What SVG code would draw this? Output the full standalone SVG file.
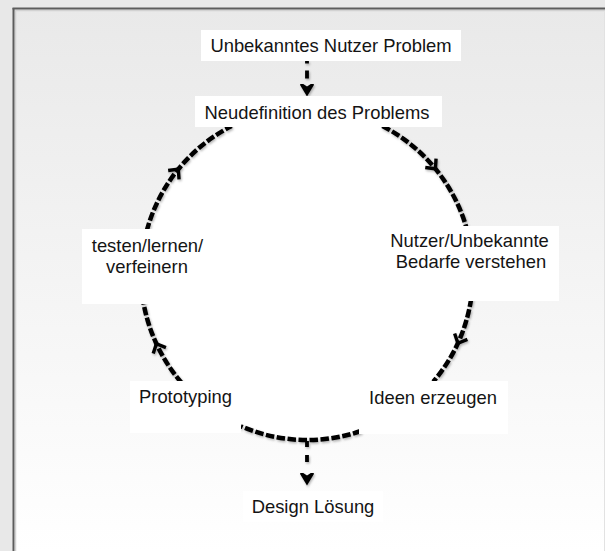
<svg xmlns="http://www.w3.org/2000/svg" width="605" height="551" viewBox="0 0 605 551">
<defs>
<linearGradient id="bg" x1="0" y1="10" x2="0" y2="551" gradientUnits="userSpaceOnUse">
<stop offset="0" stop-color="#e9e9e9"/>
<stop offset="1" stop-color="#ffffff"/>
</linearGradient>
<filter id="sh" x="-20%" y="-20%" width="140%" height="140%">
<feDropShadow dx="1" dy="1.5" stdDeviation="1" flood-color="#000" flood-opacity="0.3"/>
</filter>
<marker id="chev" markerUnits="userSpaceOnUse" viewBox="-10 -10 20 20" markerWidth="20" markerHeight="20" orient="auto" refX="0" refY="0">
<path d="M-7,-7 L0.5,0 L-7,7" fill="none" stroke="#000" stroke-width="3.4" stroke-linejoin="miter"/>
</marker>
<marker id="vhead" markerUnits="userSpaceOnUse" viewBox="-10 -10 20 20" markerWidth="20" markerHeight="20" orient="auto" refX="0" refY="0">
<path d="M-10,-6 L0,0 L-10,6 L-6,0 Z" fill="#000" stroke="#000" stroke-width="2.5" stroke-linejoin="miter"/>
</marker>
</defs>
<style>
.box{fill:#ffffff;}
.lbl{font-family:"Liberation Sans",Arial,sans-serif;font-size:18.4px;fill:#141414;text-anchor:middle;}
.arc{fill:none;stroke:#000;stroke-width:4.5;stroke-dasharray:8.5 2.5;}
.vert{fill:none;stroke:#000;stroke-width:3.8;}
</style>
<rect x="0" y="0" width="605" height="551" fill="#e8e8e8"/>
<rect x="13" y="8" width="592" height="560" fill="url(#bg)"/>
<line x1="14" y1="10.5" x2="605" y2="10.5" stroke="#d2d2d2" stroke-width="1.5"/>
<line x1="15.5" y1="10" x2="15.5" y2="551" stroke="#d2d2d2" stroke-width="1.5"/>
<line x1="12.5" y1="8.5" x2="605" y2="8.5" stroke="#5c5c5c" stroke-width="2"/>
<line x1="13.5" y1="8" x2="13.5" y2="551" stroke="#5c5c5c" stroke-width="2"/>
<line x1="604.5" y1="11" x2="604.5" y2="551" stroke="#e2e2e2" stroke-width="1"/>
<circle cx="307" cy="274" r="166" fill="#ffffff"/>
<g id="connectors" filter="url(#sh)">
<path class="arc" d="M382.4,126.1 A166,166 0 0 1 435.1,168.4 A166,166 0 0 1 466.6,228.2" marker-mid="url(#chev)"/>
<path class="arc" d="M471.2,298.5 A166,166 0 0 1 458.1,342.8 A166,166 0 0 1 433.2,381.8" marker-mid="url(#chev)"/>
<path class="arc" d="M361.0,431.0 A166,166 0 0 1 240.8,426.2"/>
<path class="arc" d="M181.7,382.9 A166,166 0 0 1 156.6,344.2 A166,166 0 0 1 143.0,300.0" marker-mid="url(#chev)"/>
<path class="arc" d="M146.7,231.0 A166,166 0 0 1 178.0,169.5 A166,166 0 0 1 231.6,126.1" marker-mid="url(#chev)"/>
<path class="vert" d="M307,61 L307,94" stroke-dasharray="2.5 7 8 40" marker-end="url(#vhead)"/>
<path class="vert" d="M307,441 L307,483" stroke-dasharray="6 8 7 40" marker-end="url(#vhead)"/>
</g>
<g id="n-unbekannt"><rect class="box" x="201" y="30" width="260" height="31"/><text class="lbl" x="331" y="52">Unbekanntes Nutzer Problem</text></g>
<g id="n-neudefinition"><rect class="box" x="195" y="96" width="247" height="31"/><text class="lbl" x="317" y="119">Neudefinition des Problems</text></g>
<g id="n-nutzer"><rect class="box" x="380" y="226" width="179" height="75"/><text class="lbl" x="469.5" y="247">Nutzer/Unbekannte</text><text class="lbl" x="471" y="268">Bedarfe verstehen</text></g>
<g id="n-ideen"><rect class="box" x="359" y="381" width="149" height="53"/><text class="lbl" x="433" y="404">Ideen erzeugen</text></g>
<g id="n-prototyping"><rect class="box" x="130" y="381" width="111" height="52"/><text class="lbl" x="185.5" y="403">Prototyping</text></g>
<g id="n-testen"><rect class="box" x="82" y="229" width="131" height="75"/><text class="lbl" x="147.5" y="252">testen/lernen/</text><text class="lbl" x="147" y="273">verfeinern</text></g>
<g id="n-design"><rect class="box" x="243" y="491" width="140" height="31"/><text class="lbl" x="313" y="513">Design Lösung</text></g>
</svg>
